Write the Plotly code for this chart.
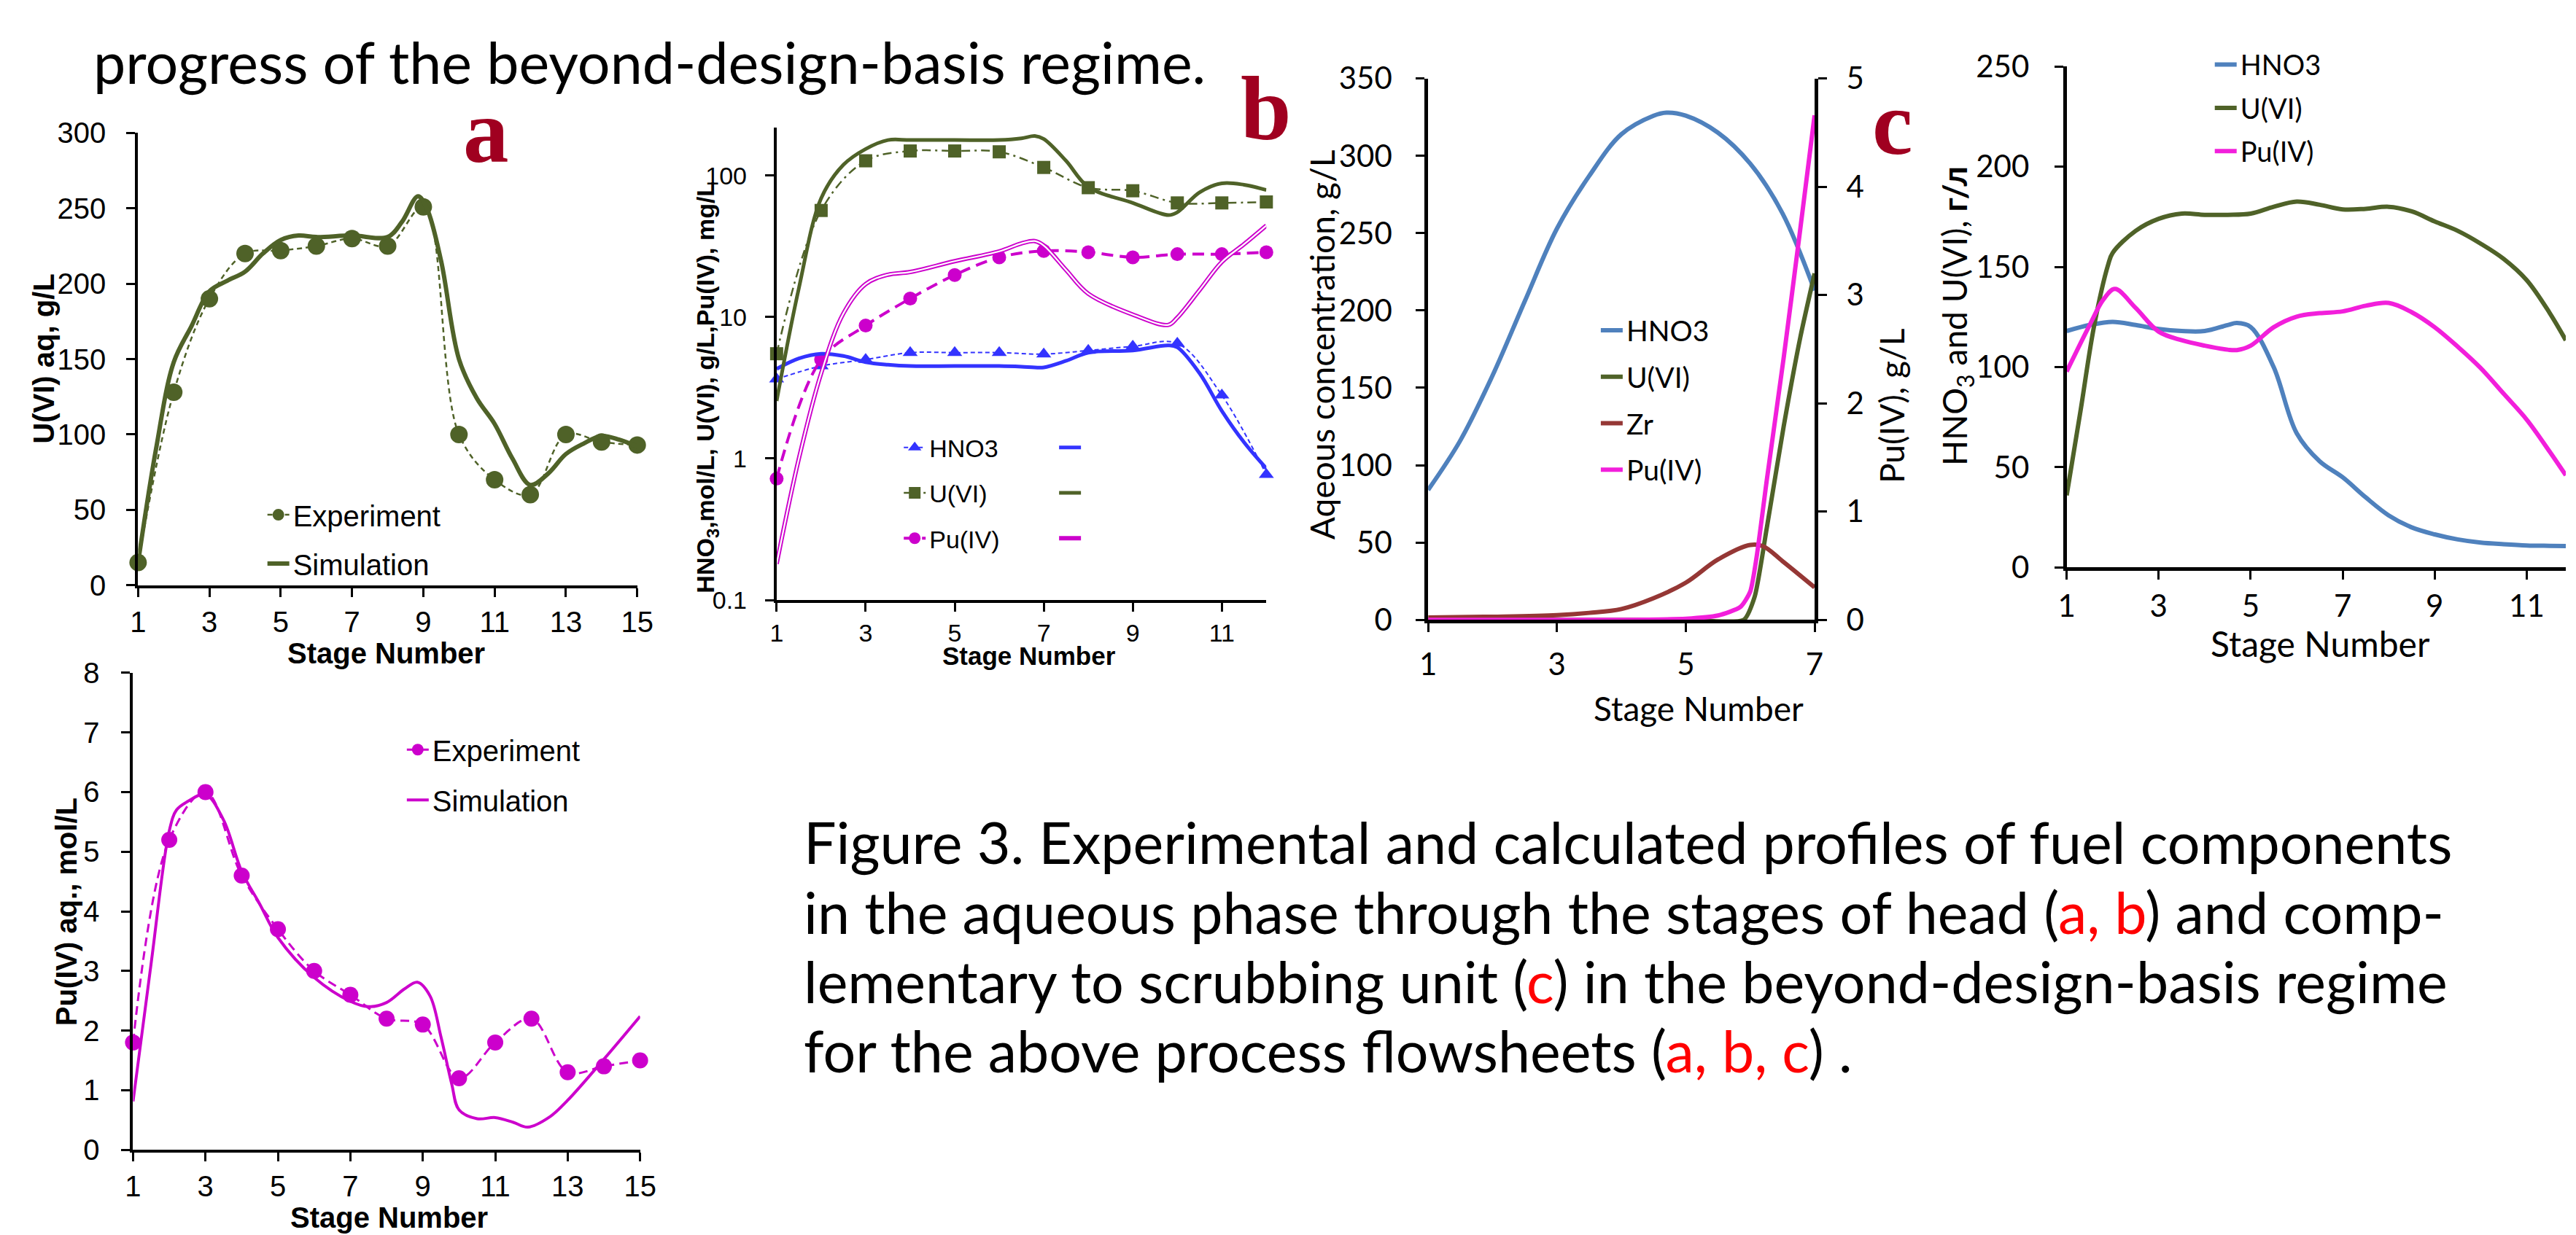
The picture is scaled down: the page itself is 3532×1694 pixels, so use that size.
import plotly.graph_objects as go

W, H = 3532, 1694

# ---------------- data ----------------
# Panel a : U(VI) aq, g/L
a_stage = [1, 2, 3, 4, 5, 6, 7, 8, 9, 10, 11, 12, 13, 14, 15]
a_u_exp = [15, 128, 190, 220, 222, 225, 230, 225, 251, 100, 70, 60, 100, 95, 93]
a_sim_stage = [1, 1.5, 2, 2.5, 3, 3.5, 4, 4.5, 5, 5.5, 6, 7, 8, 8.4, 8.85, 9.1, 9.5,
               10, 10.5, 11, 11.5, 12, 12.5, 13, 13.5, 14, 14.5, 15]
a_u_sim = [15, 90, 148, 172, 195, 202, 208, 220, 229, 232, 231, 232, 231, 241, 258, 250, 215,
           150, 124, 107, 84, 66.5, 74, 87, 94, 99, 96.5, 92]

# Panel b : HNO3 mol/L, U(VI) g/L, Pu(IV) mg/L (log scale)
b_stage = [1, 2, 3, 4, 5, 6, 7, 8, 9, 10, 11, 12]
b_hno3_exp = [3.64, 4.5, 5.0, 5.6, 5.6, 5.6, 5.47, 5.8, 6.2, 6.5, 2.8, 0.77]
b_u_exp = [5.5, 56.6, 127, 149, 149, 147, 114, 82, 78, 64, 64, 65]
b_pu_exp = [0.72, 5.0, 8.7, 13.5, 19.8, 26.4, 29.3, 28.7, 26.4, 27.8, 27.8, 28.7]
b_sim_stage = [1, 1.5, 2, 2.5, 3, 3.5, 4, 5, 6, 6.5, 6.8, 7, 7.5, 8, 9, 9.8, 10, 10.5, 11, 11.5, 12]
b_hno3_sim = [4.3, 5.1, 5.5, 5.3, 4.8, 4.6, 4.5, 4.5, 4.5, 4.45, 4.4, 4.4, 4.9, 5.6, 5.8, 6.3, 6.1,
              4.0, 2.17, 1.3, 0.85]
b_u_sim = [2.55, 16, 69, 119, 154, 178, 178, 178, 178, 183, 190, 181, 127, 83, 64, 52.5, 55,
           76, 88, 86, 79]
b_pu_sim = [0.18, 1.0, 4.0, 10.6, 17.1, 19.9, 20.8, 24.8, 29.1, 33.1, 34.4, 32, 21.5, 14.6, 10.4,
            8.8, 9.9, 15.5, 24.5, 32.7, 44.3]

# Panel c : aqueous concentration g/L (left), Pu(IV) g/L (right)
c_hno3_stage = [1, 1.5, 2, 2.5, 3, 3.5, 4, 4.5, 4.7, 5, 5.5, 6, 6.5, 7]
c_hno3 = [84, 116, 158, 206, 253, 287, 314, 326, 328, 326, 315, 295, 263, 213]
c_u_stage = [1, 2, 3, 4, 5, 5.9, 6.07, 6.26, 6.52, 6.78, 7]
c_u = [0, 0, 0, 0, 0, 0, 15, 60, 125, 183, 224]
c_zr_stage = [1, 2, 3, 3.5, 4, 4.5, 5, 5.5, 6, 6.2, 6.5, 7]
c_zr = [1.5, 2, 3, 4.5, 7, 14, 24, 39, 48.4, 47.6, 38, 21]
c_pu_stage = [1, 2, 3, 4, 5, 5.5, 5.85, 6.0, 6.1, 6.26, 6.52, 6.78, 7]
c_pu = [0, 0, 0, 0, 0.01, 0.04, 0.12, 0.26, 0.58, 1.3, 2.42, 3.62, 4.66]

# Panel d : HNO3 and U(VI), g/L
d_stage = [1, 1.5, 2, 2.5, 3, 3.5, 4, 4.5, 4.7, 5, 5.5, 6, 6.5, 7, 7.5, 8, 8.5, 9, 9.5,
           10, 10.5, 11, 11.5, 11.85]
d_hno3 = [118, 121, 122.6, 121, 119, 118, 118, 121, 122, 120, 100, 67, 53, 45, 35, 26, 20, 16.5, 14,
          12.4, 11.6, 11, 10.8, 10.7]
d_u_stage = [1, 1.3, 1.6, 1.9, 2, 2.5, 3, 3.5, 4, 4.5, 5, 5.5, 6, 6.5, 7, 7.5, 8, 8.5, 9, 9.5,
             10, 10.5, 11, 11.5, 11.85]
d_u = [36, 78, 121, 151, 157, 168, 174, 176.6, 176, 176, 176.6, 180, 182.6, 181, 178.7, 179, 180,
       177.7, 172.7, 168, 161.6, 154, 143.4, 127, 113.4]
d_pu_stage = [1, 1.5, 1.8, 2.05, 2.5, 3, 3.5, 4, 4.5, 4.7, 5, 5.5, 6, 6.5, 7, 7.5, 8, 8.5, 9,
              9.5, 10, 10.5, 11, 11.5, 11.85]
d_pu = [97.8, 121, 133.8, 139, 129.5, 117.7, 113.4, 110.7, 108.7, 108.5, 110.7, 119.9, 125.2,
        126.9, 127.8, 130.6, 132, 127.4, 119.9, 110.2, 99.5, 86.7, 73.8, 57.8, 46]

# Panel e : Pu(IV) aq., mol/L
e_stage = [1, 2, 3, 4, 5, 6, 7, 8, 9, 10, 11, 12, 13, 14, 15]
e_pu_exp = [1.8, 5.2, 6.0, 4.6, 3.7, 3.0, 2.6, 2.2, 2.1, 1.2, 1.8, 2.2, 1.3, 1.4, 1.5]
e_sim_stage = [1, 1.5, 2, 2.2, 2.5, 3, 3.5, 4, 4.5, 5, 6, 7, 7.5, 8, 8.5, 8.85, 9.2, 9.5, 9.8,
               10, 10.5, 11, 11.5, 11.9, 12.5, 13, 14, 15]
e_pu_sim = [0.81, 3.13, 5.35, 5.7, 5.84, 5.96, 5.53, 4.67, 4.12, 3.56, 2.89, 2.49, 2.4, 2.47, 2.7,
            2.81, 2.58, 1.9, 1.1, 0.67, 0.52, 0.54, 0.46, 0.38, 0.55, 0.83, 1.52, 2.24]

odd_ticks_15 = [1, 3, 5, 7, 9, 11, 13, 15]
odd_ticks_12 = [1, 3, 5, 7, 9, 11]
odd_ticks_7 = [1, 3, 5, 7]

# ---------------- styling ----------------
OLIVE = "#4F6228"
BLUE_B = "#3333FF"
MAG_B = "#CC00CC"
C_BLUE = "#4F81BD"
C_BROWN = "#953735"
C_PINK = "#F21FDB"
LABEL_RED = "#A00020"
ARIAL = "Liberation Sans, Arial, sans-serif"
CAL = "Lato, Open Sans, sans-serif"
NB = "\u00a0"


def px(x):
    return x / W


def py(y):
    return 1 - y / H


fig = go.Figure()

# ---- panel a ----
fig.add_trace(go.Scatter(x=a_stage, y=a_u_exp, name="Experiment", mode="lines+markers",
                         line=dict(color=OLIVE, width=2.5, dash="7px,5px", shape="spline"),
                         marker=dict(color=OLIVE, size=24, symbol="circle"),
                         xaxis="x", yaxis="y", legend="legend", legendgroup="a1", cliponaxis=False))
fig.add_trace(go.Scatter(x=a_sim_stage, y=a_u_sim, name="Simulation", mode="lines",
                         line=dict(color=OLIVE, width=6, shape="spline"),
                         xaxis="x", yaxis="y", legend="legend", legendgroup="a2", cliponaxis=False))

# ---- panel e ----
fig.add_trace(go.Scatter(x=e_stage, y=e_pu_exp, name="Experiment", mode="lines+markers",
                         line=dict(color=MAG_B, width=3, dash="12px,7px", shape="spline"),
                         marker=dict(color=MAG_B, size=22, symbol="circle"),
                         xaxis="x6", yaxis="y6", legend="legend2", legendgroup="e1", cliponaxis=False))
fig.add_trace(go.Scatter(x=e_sim_stage, y=e_pu_sim, name="Simulation", mode="lines",
                         line=dict(color=MAG_B, width=4, shape="spline"),
                         xaxis="x6", yaxis="y6", legend="legend2", legendgroup="e2", cliponaxis=False))

# ---- panel b ----
fig.add_trace(go.Scatter(x=b_stage, y=b_hno3_exp, name="HNO3", mode="lines+markers",
                         line=dict(color=BLUE_B, width=2, dash="6px,4px", shape="spline"),
                         marker=dict(color=BLUE_B, size=18, symbol="triangle-up"),
                         xaxis="x2", yaxis="y2", legend="legend3", legendgroup="b1", cliponaxis=False))
fig.add_trace(go.Scatter(x=b_stage, y=b_u_exp, name="U(VI)", mode="lines+markers",
                         line=dict(color=OLIVE, width=2.5, dash="12px,6px,3px,6px", shape="spline"),
                         marker=dict(color=OLIVE, size=18, symbol="square"),
                         xaxis="x2", yaxis="y2", legend="legend3", legendgroup="b2", cliponaxis=False))
fig.add_trace(go.Scatter(x=b_stage, y=b_pu_exp, name="Pu(IV)", mode="lines+markers",
                         line=dict(color=MAG_B, width=4, dash="16px,9px", shape="spline"),
                         marker=dict(color=MAG_B, size=19, symbol="circle"),
                         xaxis="x2", yaxis="y2", legend="legend3", legendgroup="b3", cliponaxis=False))
fig.add_trace(go.Scatter(x=b_sim_stage, y=b_hno3_sim, name=NB, mode="lines",
                         line=dict(color=BLUE_B, width=5, shape="spline"),
                         xaxis="x2", yaxis="y2", legend="legend4", legendgroup="bs1", cliponaxis=False))
fig.add_trace(go.Scatter(x=b_sim_stage, y=b_u_sim, name=NB, mode="lines",
                         line=dict(color=OLIVE, width=5, shape="spline"),
                         xaxis="x2", yaxis="y2", legend="legend4", legendgroup="bs2", cliponaxis=False))
fig.add_trace(go.Scatter(x=b_sim_stage, y=b_pu_sim, name=NB, mode="lines",
                         line=dict(color=MAG_B, width=6, shape="spline"),
                         xaxis="x2", yaxis="y2", legend="legend4", legendgroup="bs3", cliponaxis=False))
fig.add_trace(go.Scatter(x=b_sim_stage, y=b_pu_sim, mode="lines", showlegend=False,
                         line=dict(color="white", width=2.2, shape="spline"),
                         xaxis="x2", yaxis="y2", cliponaxis=False))

# ---- panel c ----
fig.add_trace(go.Scatter(x=c_hno3_stage, y=c_hno3, name="HNO3", mode="lines",
                         line=dict(color=C_BLUE, width=6, shape="spline"),
                         xaxis="x3", yaxis="y3", legend="legend5", legendgroup="c1", cliponaxis=False))
fig.add_trace(go.Scatter(x=c_u_stage, y=c_u, name="U(VI)", mode="lines",
                         line=dict(color=OLIVE, width=6, shape="spline", smoothing=0.6),
                         xaxis="x3", yaxis="y3", legend="legend5", legendgroup="c2", cliponaxis=False))
fig.add_trace(go.Scatter(x=c_zr_stage, y=c_zr, name="Zr", mode="lines",
                         line=dict(color=C_BROWN, width=6, shape="spline"),
                         xaxis="x3", yaxis="y3", legend="legend5", legendgroup="c3", cliponaxis=False))
fig.add_trace(go.Scatter(x=c_pu_stage, y=c_pu, name="Pu(IV)", mode="lines",
                         line=dict(color=C_PINK, width=6, shape="spline", smoothing=0.6),
                         xaxis="x3", yaxis="y4", legend="legend5", legendgroup="c4", cliponaxis=False))

# ---- panel d ----
fig.add_trace(go.Scatter(x=d_stage, y=d_hno3, name="HNO3", mode="lines",
                         line=dict(color=C_BLUE, width=6, shape="spline"),
                         xaxis="x5", yaxis="y5", legend="legend6", legendgroup="d1", cliponaxis=False))
fig.add_trace(go.Scatter(x=d_u_stage, y=d_u, name="U(VI)", mode="lines",
                         line=dict(color=OLIVE, width=6, shape="spline"),
                         xaxis="x5", yaxis="y5", legend="legend6", legendgroup="d2", cliponaxis=False))
fig.add_trace(go.Scatter(x=d_pu_stage, y=d_pu, name="Pu(IV)", mode="lines",
                         line=dict(color=C_PINK, width=6, shape="spline"),
                         xaxis="x5", yaxis="y5", legend="legend6", legendgroup="d3", cliponaxis=False))


def ax(x0, x1, rng, font, standoff, lw=4, **kw):
    d = dict(domain=[x0, x1], range=rng, showline=True, linecolor="black", linewidth=lw,
             ticks="outside", ticklen=12, tickwidth=3, tickcolor="black", showgrid=False,
             zeroline=False, tickfont=font, ticklabelstandoff=standoff, fixedrange=True)
    d.update(kw)
    return d


fa = dict(family=ARIAL, size=40, color="black")
fb = dict(family=ARIAL, size=34, color="black")
fc = dict(family=CAL, size=42, color="black")
fd = dict(family=CAL, size=42, color="black")

layout = dict(
    width=W, height=H, autosize=False,
    margin=dict(l=0, r=0, t=0, b=0, pad=0),
    paper_bgcolor="white", plot_bgcolor="rgba(0,0,0,0)",
    showlegend=True,
    # panel a
    xaxis=ax(px(171), px(862), [1, 15], fa, 0, anchor="y", tickvals=odd_ticks_15),
    yaxis=ax(py(792), py(153), [0, 300], fa, 20, anchor="x", dtick=50),
    # panel b
    xaxis2=ax(px(1055), px(1733), [1, 12], fb, 0, anchor="y2", tickvals=odd_ticks_12),
    yaxis2=ax(py(813), py(145), [-1, 2.34], fb, 18, anchor="x2", type="log", dtick=1),
    # panel c
    xaxis3=ax(px(1957), px(2492), [1, 7], fc, 8, lw=5, anchor="y3", tickvals=odd_ticks_7),
    yaxis3=ax(py(841), py(76), [0, 350], fc, 24, lw=5, anchor="x3", dtick=50),
    yaxis4=ax(py(841), py(76), [0, 5], fc, 18, lw=5, anchor="x3", overlaying="y3",
              side="right", dtick=1),
    # panel d
    xaxis5=ax(px(2841), 1.0, [1, 11.85], fd, 0, lw=5, anchor="y5", tickvals=odd_ticks_12),
    yaxis5=ax(py(767), py(59), [0, 250], fd, 26, lw=5, anchor="x5", dtick=50),
    # panel e
    xaxis6=ax(px(164), px(866), [1, 15], fa, 0, anchor="y6", tickvals=odd_ticks_15),
    yaxis6=ax(py(1590), py(916), [0, 8], fa, 22, anchor="x6", dtick=1),
)


def leg(x, y, size, family, gap):
    return dict(x=px(x), y=py(y), xanchor="left", yanchor="top", bgcolor="rgba(0,0,0,0)",
                borderwidth=0, font=dict(family=family, size=size, color="black"),
                tracegroupgap=gap, traceorder="grouped")


layout["legend"] = leg(345, 659, 40, ARIAL, 12)
layout["legend2"] = leg(538, 991, 40, ARIAL, 14)
layout["legend3"] = leg(1226, 568, 34, ARIAL, 15)
layout["legend4"] = leg(1441, 568, 34, ARIAL, 15)
layout["legend5"] = leg(2191, 399, 39, CAL, 10)
layout["legend6"] = leg(3041, 24, 38, CAL, 7)

fig.update_layout(**layout)


def ann(text, x, y, size, family, angle=0, xanchor="center", yanchor="middle", color="black"):
    fig.add_annotation(text=text, x=px(x), y=py(y), xref="paper", yref="paper",
                       xanchor=xanchor, yanchor=yanchor, textangle=angle, showarrow=False,
                       font=dict(family=family, size=size, color=color))


# axis titles
ann("<b>U(VI) aq, g/L</b>", 40, 472, 40, ARIAL, -90)
ann("<b>Stage Number</b>", 514, 888, 40, ARIAL)
ann("<b>Pu(IV) aq., mol/L</b>", 72, 1254, 40, ARIAL, -90)
ann("<b>Stage Number</b>", 518, 1686, 40, ARIAL)
ann("<b>HNO<sub>3</sub>,mol/L, U(VI), g/L,Pu(IV), mg/L</b>", 959, 512, 34, ARIAL, -90)
ann("<b>Stage Number</b>", 1405, 892, 35, ARIAL)
ann("Aqeous concentration, g/L", 1810, 452, 46, CAL, -90)
ann("Pu(IV), g/L", 2598, 538, 46, CAL, -90)
ann("Stage Number", 2331, 966, 46, CAL)
ann("HNO<sub>3</sub> and U(VI), <b>г/л</b>", 2689, 412, 46, CAL, -90)
ann("Stage Number", 3192, 874, 48, CAL)

# panel letters
SERIF = "Liberation Serif, Times New Roman, serif"
ann("<b>a</b>", 653, 150, 125, SERIF, color=LABEL_RED)
ann("<b>b</b>", 1733, 119, 125, SERIF, color=LABEL_RED)
ann("<b>c</b>", 2600, 139, 125, SERIF, color=LABEL_RED)

# page text
ann("progress of the beyond-design-basis regime.", 107, 52, 79, CAL, xanchor="left")
red = lambda s: "<span style='color:red'>" + s + "</span>"
cap_lines = [
    "Figure 3. Experimental and calculated profiles of fuel components",
    "in the aqueous phase through the stages of head (" + red("a, b") + ") and comp-",
    "lementary to scrubbing unit (" + red("c") + ") in the beyond-design-basis regime",
    "for the above process flowsheets (" + red("a, b, c") + ") .",
]
cap_y = [1155, 1253, 1351, 1449]
for t, yy in zip(cap_lines, cap_y):
    ann(t, 1090, yy, 79, CAL, xanchor="left")

fig.write_html("out.html")
